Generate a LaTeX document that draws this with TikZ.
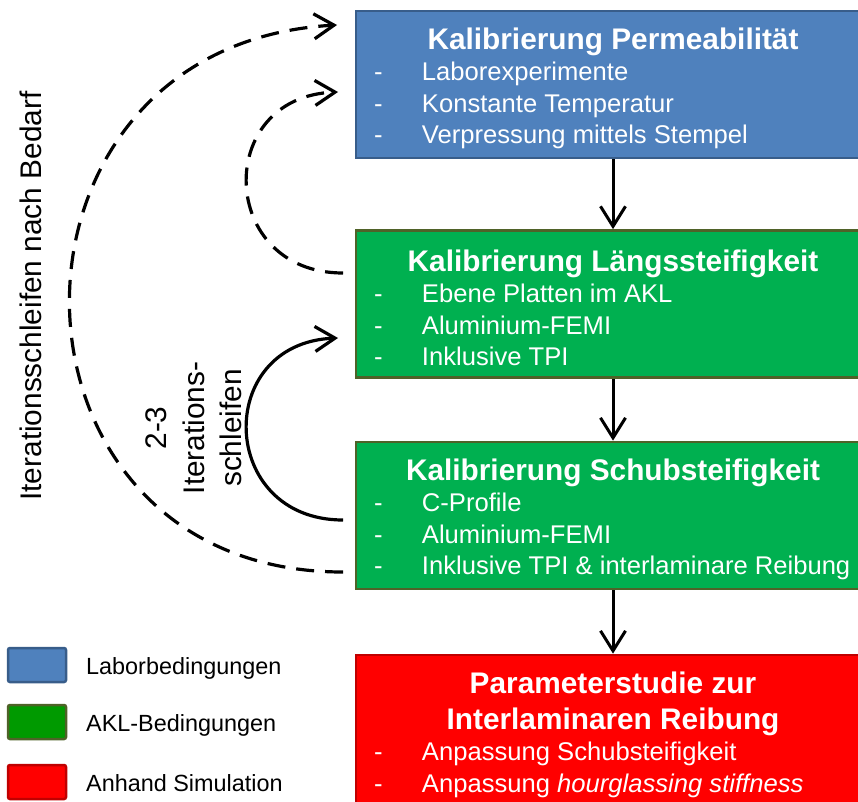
\documentclass[tikz,border=0pt]{standalone}
\usepackage{fontspec}
\setmainfont{Liberation Sans}
\usetikzlibrary{arrows.meta}

\definecolor{labFill}{HTML}{4F81BD}
\definecolor{labLine}{HTML}{385D8A}
\definecolor{aklFill}{HTML}{00B050}
\definecolor{aklLine}{HTML}{4F6228}
\definecolor{aklKey}{HTML}{009A00}
\definecolor{simFill}{HTML}{FF0000}
\definecolor{simLine}{HTML}{C00000}

% word spacing tied to the font size in force
\newcommand\wordspace{\spaceskip=.278em plus .139em minus .093em\relax}
% heading and bullet lines inside a stage box
\newcommand\stagehead[1]{{\centering\bfseries\fontsize{29.8}{36}\selectfont\wordspace\rule{0pt}{29pt}#1\par}}
\newcommand\stageitem[1]{{\noindent\fontsize{25.6}{31.5}\selectfont\wordspace\makebox[48pt][l]{-}\mbox{#1}\par}}

\begin{document}
\begin{tikzpicture}[x=1pt,y=-1pt,
  stage/.style={rectangle, line width=2.75pt, minimum width=514pt, minimum height=147pt,
    inner xsep=18pt, inner ysep=0pt, text width=478pt, text=white},
  flow/.style={line width=3pt, -{Straight Barb[length=20pt,width=25pt]}},
  loop/.style={line width=3.2pt, -{Straight Barb[length=20pt,width=25pt]}},
  loopdash/.style={loop, dash pattern=on 18pt off 11pt},
  key/.style={rectangle, rounded corners=2pt, line width=2.5pt, minimum width=58pt, minimum height=34pt},
  keytext/.style={anchor=base west, inner sep=0pt, font=\fontsize{23.4}{28}\selectfont},
  sidetext/.style={rotate=90, inner sep=0pt, align=center, font=\fontsize{29.8}{37.5}\selectfont}]

\useasboundingbox (0,0) rectangle (858,801);
\clip (0,0) rectangle (858,801);

% process stages
\node[stage, fill=labFill, draw=labLine] (perm) at (613,84.5) {%
  \stagehead{Kalibrierung Permeabilität}
  \stageitem{Laborexperimente}
  \stageitem{Konstante Temperatur}
  \stageitem{Verpressung mittels Stempel}};

\node[stage, fill=aklFill, draw=aklLine] (laengs) at (613,304) {%
  \stagehead{Kalibrierung Längssteifigkeit}
  \stageitem{Ebene Platten im AKL}
  \stageitem{Aluminium-FEMI}
  \stageitem{Inklusive TPI}};

\node[stage, fill=aklFill, draw=aklLine] (shear) at (613,515.5) {%
  \stagehead{Kalibrierung Schubsteifigkeit}
  \stageitem{C-Profile}
  \stageitem{Aluminium-FEMI}
  \stageitem{Inklusive TPI \& interlaminare Reibung}};

\node[stage, fill=simFill, draw=simLine, minimum height=152pt] (param) at (613,731) {%
  \stagehead{Parameterstudie zur\\Interlaminaren Reibung}
  \stageitem{Anpassung Schubsteifigkeit}
  \stageitem{Anpassung \textit{hourglassing stiffness}}};

% main flow
\draw[flow] (perm.south) -- (laengs.north);
\draw[flow] (laengs.south) -- (shear.north);
\draw[flow] (shear.south) -- (param.north);

% iteration loops
\draw[loopdash] ([shift={(-11.6,56.5)}]shear.west)
  .. controls +(-360,0) and +(-360,20) .. ([shift={(-17.6,-59.5)}]perm.west);
\draw[loopdash] ([shift={(-11.6,-31)}]laengs.west)
  .. controls +(-125,0) and +(-125,5) .. ([shift={(-16.6,7.5)}]perm.west);
\draw[loop] ([shift={(-11.6,4.5)}]shear.west)
  .. controls +(-125,0) and +(-125,5) .. ([shift={(-16.6,34)}]laengs.west);

\node[sidetext] (loopsall) at (31,296) {Iterationsschleifen nach Bedarf};
\node[sidetext] (loopsfew) at (194,428) {2-3\\Iterations-\\schleifen};

% legend
\node[key, fill=labFill, draw=labLine] (keylab) at (37,665) {};
\node[key, fill=aklKey, draw=aklLine] (keyakl) at (37,722) {};
\node[key, fill=simFill, draw=simLine] (keysim) at (37,782) {};
\node[keytext] (keylabtext) at (86,674) {Laborbedingungen};
\node[keytext] (keyakltext) at (86,731) {AKL-Bedingungen};
\node[keytext] (keysimtext) at (86,791) {Anhand Simulation};
\end{tikzpicture}
\end{document}
